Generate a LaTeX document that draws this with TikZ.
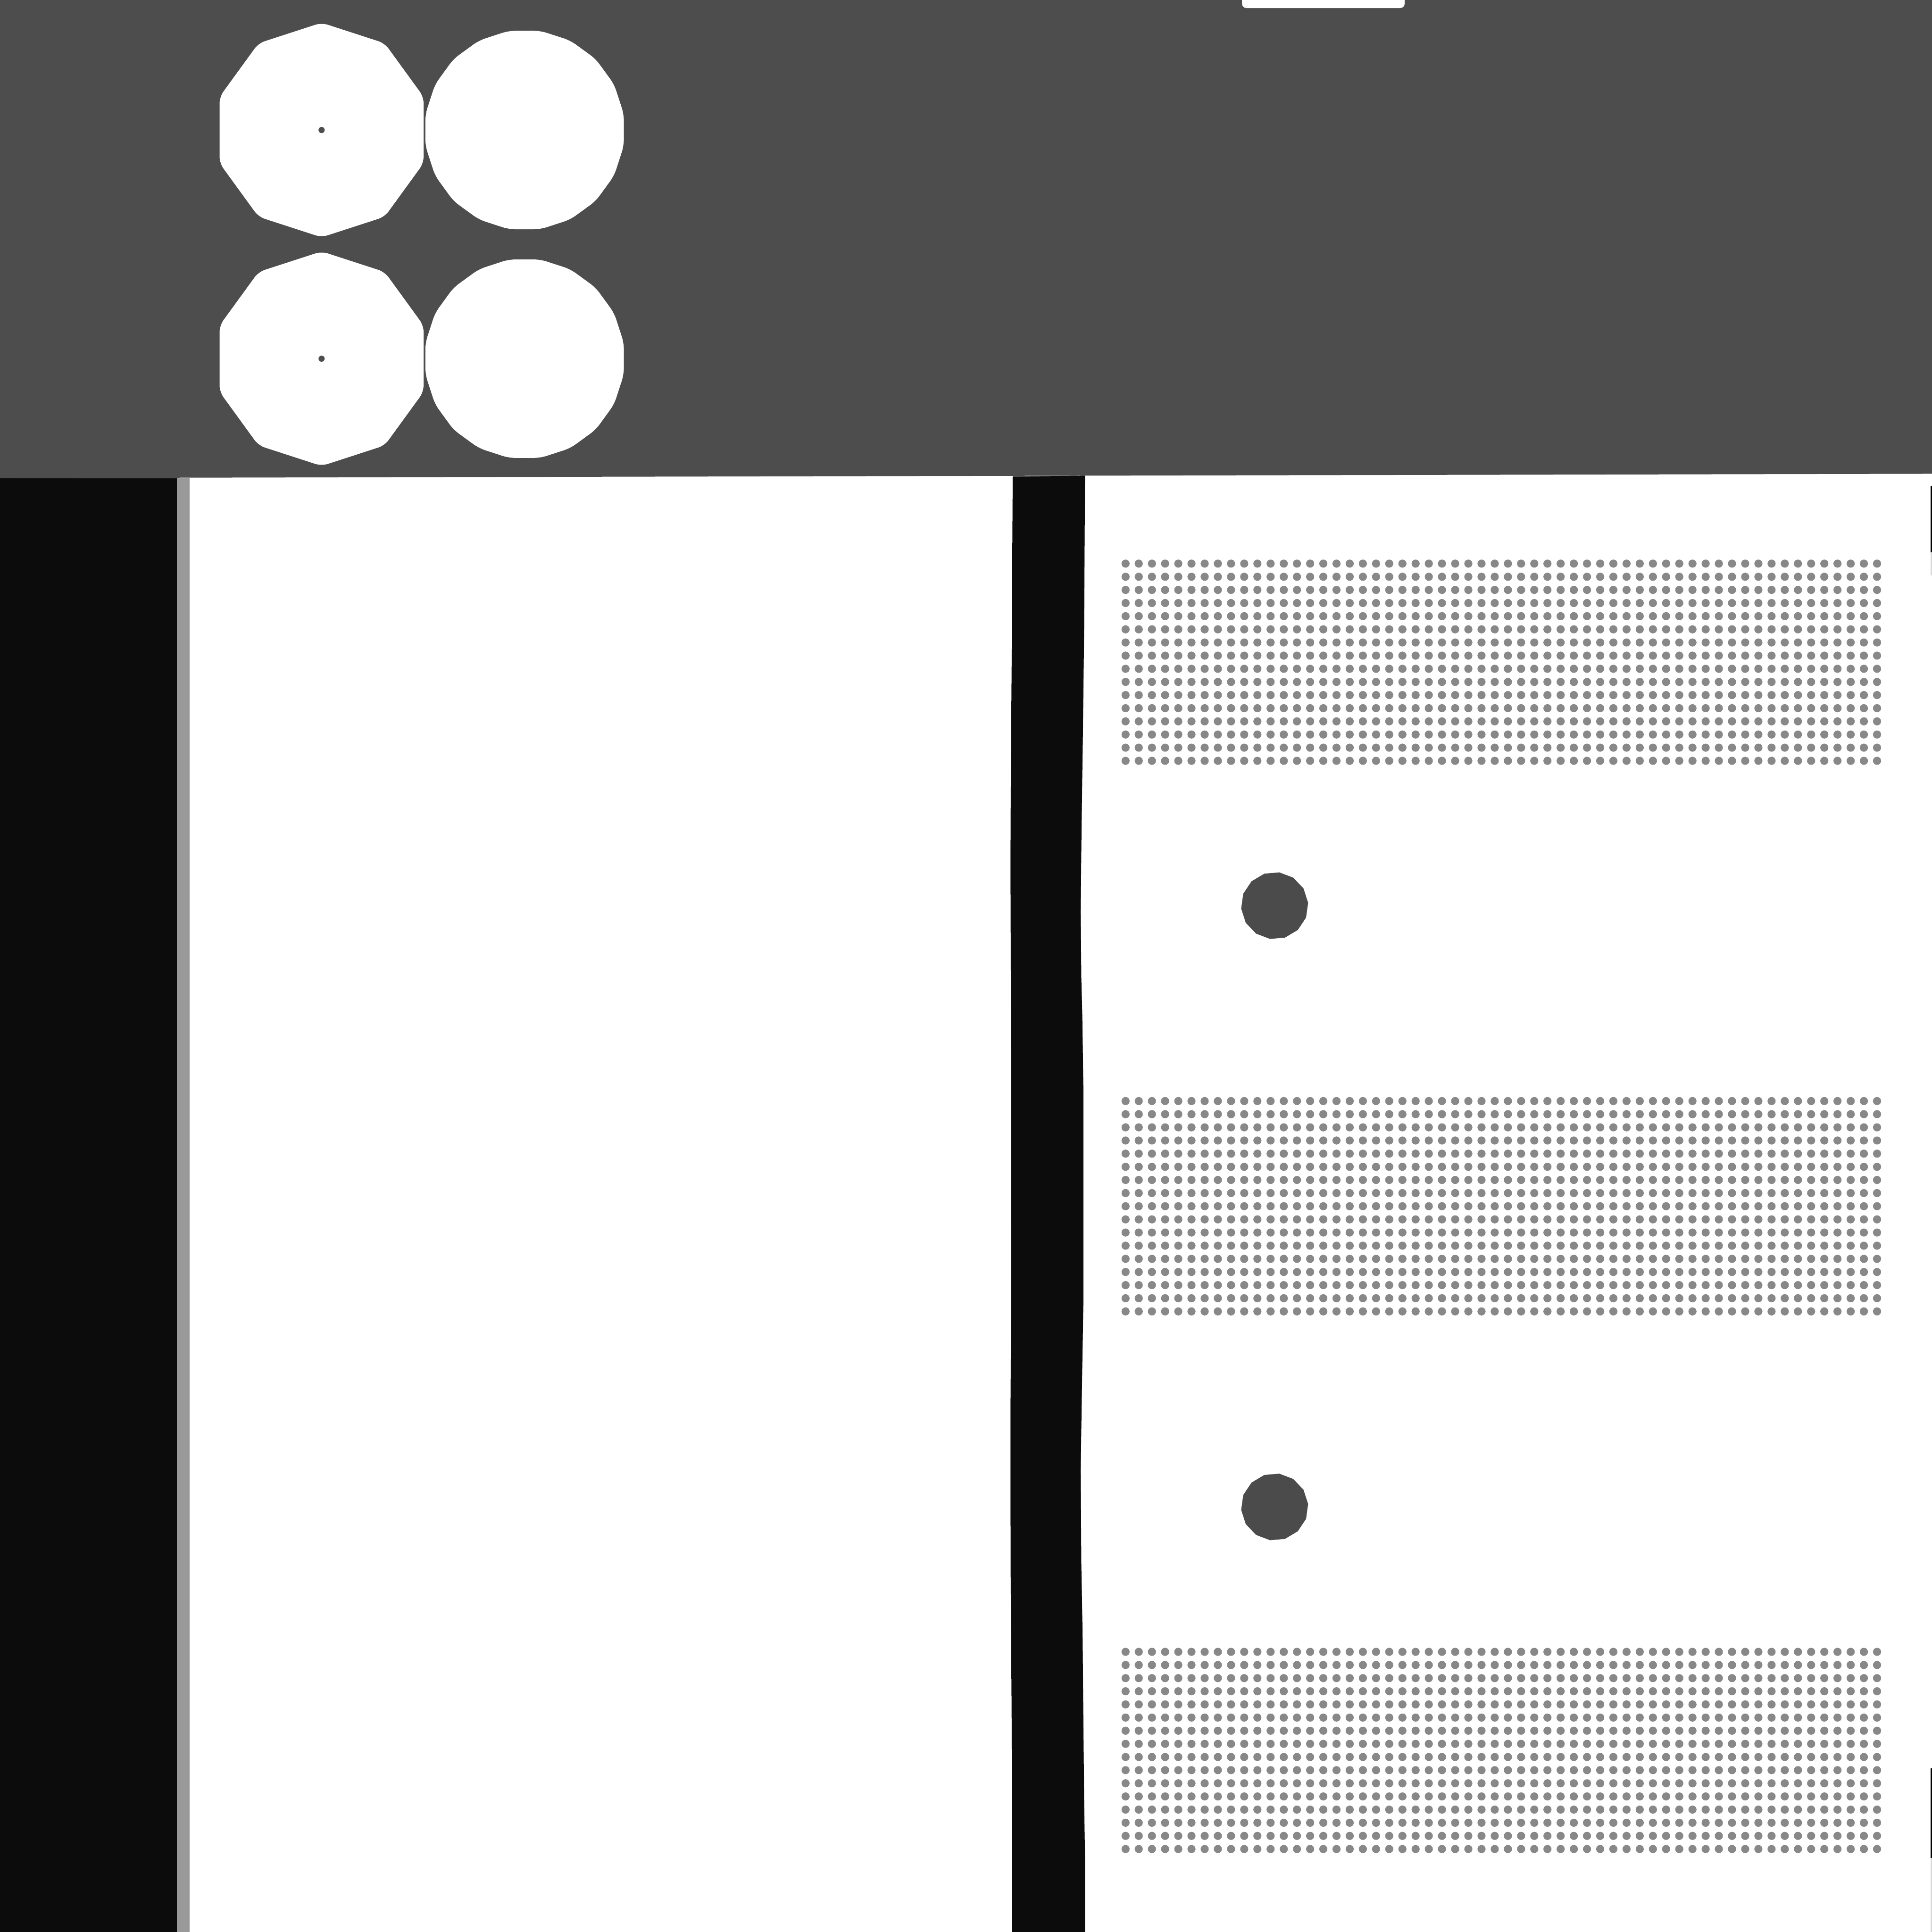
\documentclass[tikz,border=0pt]{standalone}
\usepackage{tikz}
\usetikzlibrary{shapes.geometric, positioning}

\definecolor{bargray}{HTML}{4D4D4D}
\definecolor{stripblack}{HTML}{0C0C0C}
\definecolor{edgegray}{HTML}{999999}
\definecolor{dotgray}{HTML}{888888}
\definecolor{knobgray}{HTML}{4B4B4B}

\begin{document}
\begin{tikzpicture}[
  x=0.01cm, y=-0.01cm,
  deca/.style={
    regular polygon,
    regular polygon sides=10,
    shape border rotate=18,
    minimum size=1.74cm,
    inner sep=0pt,
    fill=white,
    rounded corners=1.5pt
    },
  icosa/.style={
    regular polygon,
    regular polygon sides=20,
    minimum size=1.63cm,
    inner sep=0pt,
    fill=white,
    rounded corners=1.5pt
    },
  knob/.style={
    regular polygon,
    regular polygon sides=14,
    shape border rotate=5,
    minimum size=0.545cm,
    inner sep=0pt,
    fill=knobgray
    },
  hub/.style={circle, fill=bargray, inner sep=0pt, minimum size=0.05cm}
]

\useasboundingbox (0,0) rectangle (1568,1568);
\clip (0,0) rectangle (1568,1568);
\fill[white] (0,0) rectangle (1568,1568);

\fill[bargray] (0,-5) -- (1568,-5) -- (1568,384.5) -- (0,388) -- cycle;
\fill[white, rounded corners=1pt] (1008,-10) rectangle (1140,6.5);

\fill[stripblack] (0,388) rectangle (143.6,1568);
\fill[edgegray] (143.6,388) rectangle (154,1568);

\fill[stripblack]
  (821.9,386.7) -- (821.2,517) -- (820.3,648) -- (820.1,702) -- (820.6,863)
  -- (820.8,1032) -- (820.1,1147) -- (820.2,1270) -- (821,1385) -- (821.5,1516)
  -- (821.5,1568) -- (880.6,1568) -- (880.6,1508) -- (879.9,1462) -- (879.3,1400)
  -- (878.6,1324) -- (877.6,1270) -- (877.1,1193) -- (878,1132) -- (879.3,1055)
  -- (879.3,886) -- (878.4,824.5) -- (877.6,794) -- (877.1,740) -- (877.8,671)
  -- (878.9,594) -- (879.9,509.6) -- (880.6,386) -- cycle;

\fill[black] (1566.8,394.4) rectangle (1568,448.2);
\fill[black!15] (1566.8,448.2) rectangle (1568,467);
\fill[black] (1566.8,1435) rectangle (1568,1508);
\fill[black!15] (1566.8,1508) rectangle (1568,1568);

\node[deca] (decaA) at (261,105.5) {};
\node[icosa, right=0pt of decaA] (icosaA) {};
\node[deca, below=0.1cm of decaA] (decaB) {};
\node[icosa, right=0pt of decaB] (icosaB) {};
\node[hub] (hubA) at (decaA.center) {};
\node[hub] (hubB) at (decaB.center) {};

\foreach \top/\rows in {457.4/16, 893.6/17, 1340.6/16}
  \foreach \r in {1,...,\rows}
    \foreach \c in {0,...,57}
      \fill[dotgray] (913.5+\c*10.7, \top+\r*10.67-10.67) circle (3.3);

\node[knob] (knobA) at (1034.5,735) {};
\node[knob] (knobB) at (1034.5,1223) {};

\end{tikzpicture}
\end{document}
